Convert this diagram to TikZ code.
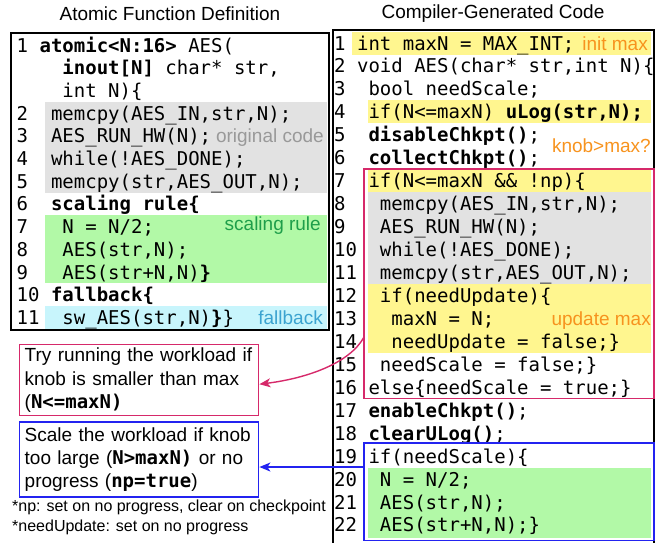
\documentclass[tikz,border=0pt]{standalone}
\usepackage{fontspec}
\setmainfont{Liberation Sans}
\setmonofont{DejaVu Sans Mono}
\usetikzlibrary{arrows.meta,positioning}
\definecolor{aesyellow}{HTML}{FFF68F}
\definecolor{aesgrey}{HTML}{E2E2E2}
\definecolor{aesgreen}{HTML}{B2F9A7}
\definecolor{aescyan}{HTML}{C8F5FC}
\definecolor{aespink}{HTML}{D6296A}
\definecolor{aesblue}{HTML}{2323F0}
\definecolor{aesorange}{HTML}{F7931E}
\definecolor{aesnote}{HTML}{999999}
\definecolor{aesrule}{HTML}{1E9E4A}
\definecolor{aesfall}{HTML}{3BA3D0}

\begin{document}
\begin{tikzpicture}[
  x=1pt, y=-1pt,
  font=\fontsize{19}{23.3}\selectfont,
  >={Stealth[length=11pt,width=9pt,inset=3pt]},
  code/.style={anchor=base west, inner sep=0pt, font=\ttfamily\fontsize{19}{22}\selectfont},
  tag/.style={anchor=base east, inner sep=0pt, text=#1},
  callout/.style={draw=#1, line width=1.4pt, align=left, text width=229pt,
    inner xsep=5pt, inner ysep=2pt, anchor=north west},
  frame/.style={line width=1.5pt},
]
\useasboundingbox (0,0) rectangle (658,542);

% titles
\node (ltitle) at (170,14) {Atomic Function Definition};
\node (rtitle) at (493,14) {Compiler-Generated Code};

% left panel: highlights
\fill[aesgrey]  (45,101.8) rectangle (327,192.6);
\fill[aesgreen] (45,215.3) rectangle (327,283.4);
\fill[aescyan]  (45,306.1) rectangle (327,329);

% left panel: code
\foreach \r/\n/\c/\t in {
  0/1/2/{\textbf{atomic<N:16>} AES(},
  1//4/{\textbf{inout[N]} char* str,},
  2//4/{int N)\{},
  3/2/3/{memcpy(AES\_IN,str,N);},
  4/3/3/{AES\_RUN\_HW(N);},
  5/4/3/{while(!AES\_DONE);},
  6/5/3/{memcpy(str,AES\_OUT,N);},
  7/6/3/{\textbf{scaling rule\{}},
  8/7/4/{N = N/2;},
  9/8/4/{AES(str,N);},
  10/9/4/{AES(str+N,N)\textbf{\}}},
  11/10/3/{\textbf{fallback\{}},
  12/11/4/{sw\_AES(str,N)\textbf{\}}\}}}{
  \node[code] (ln\r) at (16.5, 52+\r*22.7) {\n};
  \node[code] (l\r) at (16.5+\c*11.44, 52+\r*22.7) {\t};
}
\node[tag=aesnote] (orig) at (324,142.8) {original code};
\node[tag=aesrule] (srule) at (321,230) {scaling rule};
\node[tag=aesfall] (fall) at (323,324) {fallback};
\draw[frame] (11,33) rectangle (329,330);

% right panel: highlights
\fill[aesyellow] (352,31.5) rectangle (651,54.5);
\fill[aesyellow] (368,100.4) rectangle (651,123.3);
\fill[aesyellow] (368,169.2) rectangle (651,192.2);
\fill[aesgrey]   (368,192.2) rectangle (651,284);
\fill[aesyellow] (368,284) rectangle (651,352.9);
\fill[aesgreen]  (368,467.6) rectangle (651,538);

% right panel: code
\foreach \r/\n/\c/\t in {
  0/1/2/{int maxN = MAX\_INT;},
  1/2/2/{void AES(char* str,int N)\{},
  2/3/3/{bool needScale;},
  3/4/3/{if(N<=maxN) \textbf{uLog(str,N);}},
  4/5/3/{\textbf{disableChkpt()};},
  5/6/3/{\textbf{collectChkpt()};},
  6/7/3/{if(N<=maxN \&\& !np)\{},
  7/8/4/{memcpy(AES\_IN,str,N);},
  8/9/4/{AES\_RUN\_HW(N);},
  9/10/4/{while(!AES\_DONE);},
  10/11/4/{memcpy(str,AES\_OUT,N);},
  11/12/4/{if(needUpdate)\{},
  12/13/5/{maxN = N;},
  13/14/5/{needUpdate = false;\}},
  14/15/4/{needScale = false;\}},
  15/16/3/{else\{needScale = true;\}},
  16/17/3/{\textbf{enableChkpt()};},
  17/18/3/{\textbf{clearULog()};},
  18/19/3/{if(needScale)\{},
  19/20/4/{N = N/2;},
  20/21/4/{AES(str,N);},
  21/22/4/{AES(str+N,N);\}}}{
  \node[code] (rn\r) at (334, 50+\r*22.95) {\n};
  \node[code] (r\r) at (334+\c*11.44, 50+\r*22.95) {\t};
}
\node[tag=aesorange] (initmax) at (648,50) {init max};
\node[tag=aesorange] (knob) at (651,152) {knob>max?};
\node[tag=aesorange] (updmax) at (651,325.5) {update max};

% right panel: frames
\draw[frame] (333,545) -- (333,30) -- (654,30) -- (654,545);
\draw[aespink, line width=1.4pt] (364,169) rectangle (654,398.5);
\draw[aesblue, line width=1.4pt] (364,443) rectangle (654,540.5);
\coordinate (tryfrom) at (364,337);
\coordinate (scalefrom) at (364,467);

% callouts
\node[callout=aespink, minimum height=71pt] (trynote) at (19,344)
  {Try running the workload if\\knob is smaller than max\\(\texttt{\textbf{N<=maxN)}}};
\node[callout=aesblue, minimum height=75pt, below=5pt of trynote] (scalenote)
  {Scale the workload if knob\\too large (\texttt{\textbf{N>maxN)}} or no\\progress (\texttt{\textbf{np=true}})};
\draw[->, aespink, line width=1.4pt] (tryfrom) .. controls +(-14,26) and +(48,-6) .. ([yshift=-4pt]trynote.east);
\draw[->, aesblue, line width=1.4pt] (scalefrom) -- (scalefrom -| scalenote.east);

% footnotes
\node[anchor=base west, inner sep=0pt, font=\fontsize{16}{19}\selectfont] (fnp) at (12,511.5)
  {*np: set on no progress, clear on checkpoint};
\node[anchor=base west, inner sep=0pt, font=\fontsize{16}{19}\selectfont] (fupd) at (12,531)
  {*needUpdate: set on no progress};
\end{tikzpicture}
\end{document}
